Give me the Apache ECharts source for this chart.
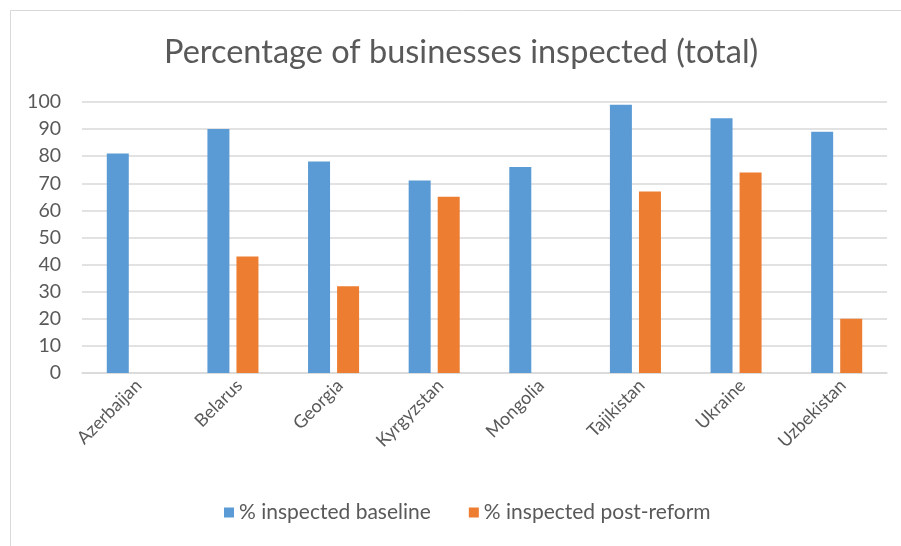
<!DOCTYPE html>
<html>
<head>
<meta charset="utf-8">
<script src="https://cdn.jsdelivr.net/npm/echarts@6/dist/echarts.min.js"></script>
<style>
  html, body { margin: 0; padding: 0; background: #fff; }
  #chart { width: 901px; height: 546px; }
</style>
</head>
<body>
<div id="chart"></div>
<script>
// Data
const countries = ['Azerbaijan', 'Belarus', 'Georgia', 'Kyrgyzstan', 'Mongolia', 'Tajikistan', 'Ukraine', 'Uzbekistan'];
const baseline = [81, 90, 78, 71, 76, 99, 94, 89];
const postReform = [null, 43, 32, 65, null, 67, 74, 20];
const seriesNames = ['% inspected baseline', '% inspected post-reform'];

const FONT = 'Lato, "Open Sans", sans-serif';
const TEXT = '#595959';

const chart = echarts.init(document.getElementById('chart'));
chart.setOption({
  animation: false,
  textStyle: { fontFamily: FONT },
  graphic: [{
    type: 'rect',
    shape: { x: 10.5, y: 10.5, width: 900, height: 545 },
    style: { fill: 'none', stroke: '#d9d9d9', lineWidth: 1 },
    silent: true
  }],
  title: {
    text: 'Percentage of businesses inspected (total)',
    left: 159,
    top: 31,
    textStyle: { fontFamily: FONT, fontSize: 32.5, fontWeight: 'normal', color: TEXT }
  },
  legend: {
    data: seriesNames,
    bottom: 18,
    left: 219,
    itemWidth: 10,
    itemHeight: 10,
    itemGap: 38,
    icon: 'rect',
    textStyle: { fontFamily: FONT, fontSize: 21, color: TEXT }
  },
  grid: { left: 82, right: 14, top: 102, bottom: 173 },
  xAxis: {
    type: 'category',
    data: countries,
    axisTick: { show: false },
    axisLine: { lineStyle: { color: '#d9d9d9', width: 1.5 } },
    axisLabel: {
      rotate: 45, margin: 16, fontSize: 18, color: TEXT, fontFamily: FONT,
      padding: [16, -9, 0, 0]
    }
  },
  yAxis: {
    type: 'value',
    min: 0,
    max: 100,
    interval: 10,
    axisLine: { show: false },
    axisTick: { show: false },
    splitLine: { lineStyle: { color: '#d9d9d9', width: 1.5 } },
    axisLabel: { fontSize: 19.5, color: TEXT, margin: 21, fontFamily: FONT }
  },
  series: [
    {
      name: seriesNames[0],
      type: 'bar',
      data: baseline,
      barWidth: 22,
      barGap: '32%',
      itemStyle: { color: '#5b9bd5' }
    },
    {
      name: seriesNames[1],
      type: 'bar',
      data: postReform,
      barWidth: 22,
      itemStyle: { color: '#ed7d31' }
    }
  ]
});
</script>
</body>
</html>
